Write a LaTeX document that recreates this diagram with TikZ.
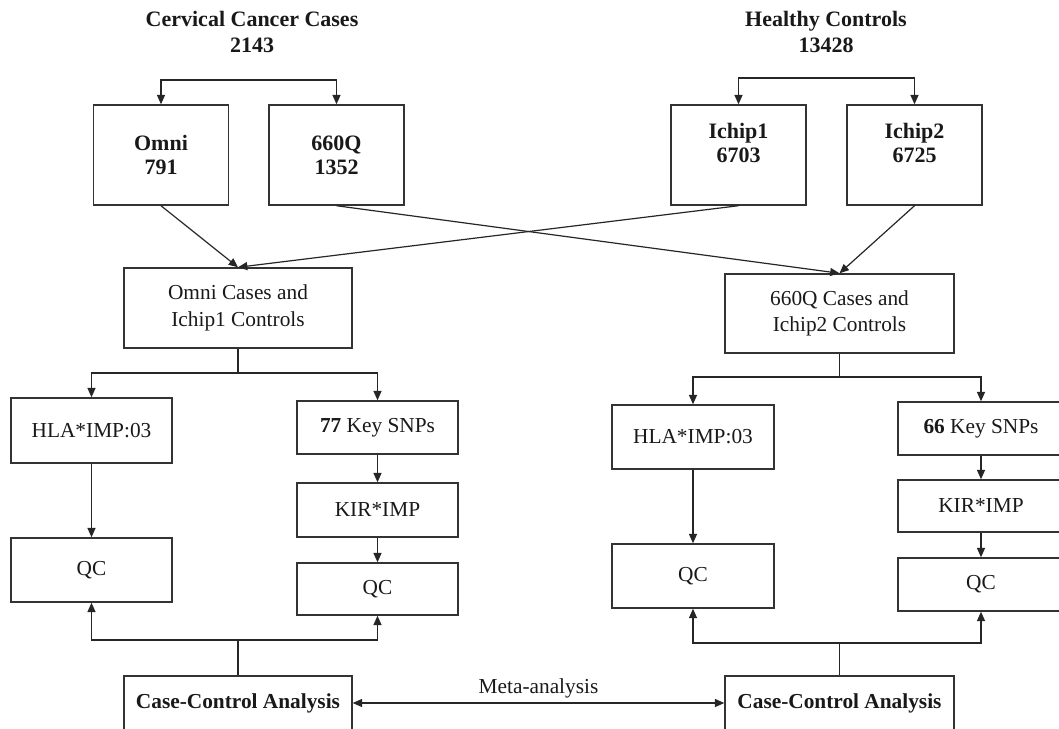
\documentclass[tikz,border=0pt]{standalone}
\usepackage{fontspec}
\setmainfont{Liberation Serif}
\usetikzlibrary{positioning,arrows.meta}
\tikzset{
  stepbox/.style 2 args={draw=black!80, line width=1.1pt, minimum width=#1*0.75pt,
                         minimum height=#2*0.75pt, inner sep=0pt, align=center,
                         font=\fontsize{16}{20}\selectfont, text=black!90},
  headtext/.style={align=center, font=\bfseries\fontsize{16.5}{19}\selectfont, text=black!90},
  chipbox/.style={stepbox={135}{100}, font=\bfseries\fontsize{16.5}{18}\selectfont},
  link/.style={line width=0.9pt, draw=black!85},
  fwd/.style={link, -{Triangle[length=7pt,width=6pt]}},
  both/.style={link, {Triangle[length=7pt,width=6pt]}-{Triangle[length=7pt,width=6pt]}},
}

\begin{document}
\begin{tikzpicture}[x=0.75pt, y=-0.75pt]
  \useasboundingbox (0,0) rectangle (1059,728);

  % sources
  \node[headtext] (cases) at (252,32) {Cervical Cancer Cases\\2143};
  \node[headtext] (controls) at (826,32) {Healthy Controls\\13428};

  \node[chipbox] (omni) at (161,155) {Omni\\791};
  \node[chipbox] (q660) at (336.5,155) {660Q\\1352};
  \node[chipbox, text depth=18pt] (ichip1) at (738.5,155) {Ichip1\\6703};
  \node[chipbox, text depth=18pt] (ichip2) at (914.5,155) {Ichip2\\6725};

  \coordinate (split1) at (250,80);
  \coordinate (split2) at (826,78);
  \draw[both] (omni.north) |- (split1) -| (q660.north);
  \draw[both] (ichip1.north) |- (split2) -| (ichip2.north);

  % merged sets
  \node[stepbox={228}{80}] (setA) at (238,308) {Omni Cases and\\Ichip1 Controls};
  \node[stepbox={229}{79}] (setB) at (839.5,313.5) {660Q Cases and\\Ichip2 Controls};

  \draw[fwd] (omni.south) -- (setA.north);
  \draw[fwd] (ichip1.south) -- (setA.north);
  \draw[fwd] (q660.south) -- (setB.north);
  \draw[fwd] (ichip2.south) -- (setB.north);

  % left branch
  \node[stepbox={161}{65}] (hlaA) at (91.5,430.5) {HLA*IMP:03};
  \node[stepbox={161}{64}] (qcA1) at (91.5,570) {QC};
  \node[stepbox={161}{53}] (snpA) at (377.5,427.5) {\textbf{77} Key SNPs};
  \node[stepbox={161}{54}] (kirA) at (377.5,510) {KIR*IMP};
  \node[stepbox={161}{52}] (qcA2) at (377.5,589) {QC};
  \node[stepbox={228}{54}] (ccaA) at (238,703) {\bfseries Case-Control Analysis};

  \coordinate (forkA) at (238,373);
  \coordinate (joinA) at (238,640);
  \draw[link] (setA.south) -- (forkA);
  \draw[fwd] (forkA) -| (hlaA.north);
  \draw[fwd] (forkA) -| (snpA.north);
  \draw[fwd] (hlaA) -- (qcA1);
  \draw[fwd] (snpA) -- (kirA);
  \draw[fwd] (kirA) -- (qcA2);
  \draw[link] (ccaA.north) -- (joinA);
  \draw[fwd] (joinA) -| (qcA1.south);
  \draw[fwd] (joinA) -| (qcA2.south);

  % right branch
  \node[stepbox={162}{64}] (hlaB) at (693,437) {HLA*IMP:03};
  \node[stepbox={162}{64}] (qcB1) at (693,576) {QC};
  \node[stepbox={166}{53}] (snpB) at (981,428.5) {\textbf{66} Key SNPs};
  \node[stepbox={166}{52}] (kirB) at (981,506) {KIR*IMP};
  \node[stepbox={166}{53}] (qcB2) at (981,584.5) {QC};
  \node[stepbox={229}{54}] (ccaB) at (839.5,703) {\bfseries Case-Control Analysis};

  \coordinate (forkB) at (839.5,377);
  \coordinate (joinB) at (839.5,643);
  \draw[link] (setB.south) -- (forkB);
  \draw[fwd] (forkB) -| (hlaB.north);
  \draw[fwd] (forkB) -| (snpB.north);
  \draw[fwd] (hlaB) -- (qcB1);
  \draw[fwd] (snpB) -- (kirB);
  \draw[fwd] (kirB) -- (qcB2);
  \draw[link] (ccaB.north) -- (joinB);
  \draw[fwd] (joinB) -| (qcB1.south);
  \draw[fwd] (joinB) -| (qcB2.south);

  \draw[both] (ccaA.east) -- (ccaB.west)
    node[midway, above, font=\fontsize{16}{20}\selectfont, text=black!90] {Meta-analysis};
\end{tikzpicture}
\end{document}
